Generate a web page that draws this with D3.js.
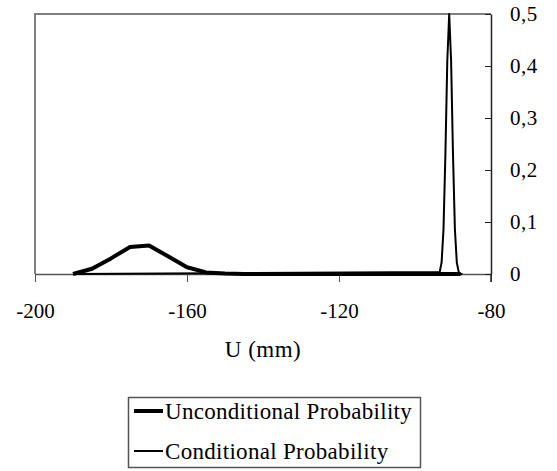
<!DOCTYPE html>
<html>
<head>
<meta charset="utf-8">
<script src="https://cdn.jsdelivr.net/npm/d3@7"></script>
<style>
  body { margin: 0; background: #fff; }
  svg { display: block; font-family: "Liberation Serif", "Times New Roman", serif; }
</style>
</head>
<body>
<svg width="557" height="471"></svg>
<script>
// U (mm) positions and probabilities
var uncondU = [-190, -185, -180, -175, -170, -165, -160, -155, -150, -145, -88];
var uncondP = [0, 0.01, 0.03, 0.052, 0.055, 0.034, 0.013, 0.003, 0.001, 0, 0];

var condU = [-190, -93.5, -93, -92.5, -92, -91.5, -91, -90.5, -90, -89.5, -89, -88.5, -88, -87.5];
var condP = [0, 0.004, 0.022, 0.086, 0.23, 0.41, 0.5, 0.41, 0.23, 0.086, 0.022, 0.004, 0, 0];

var xTicks = [-200, -160, -120, -80];
var yTicks = [0, 0.1, 0.2, 0.3, 0.4, 0.5];

var svg = d3.select("svg"),
    m = {left: 35, right: 491, top: 14, bottom: 274},
    fsTick = "21px",
    fsText = "23px";

var x = d3.scaleLinear().domain([-200, -80]).range([m.left, m.right]),
    y = d3.scaleLinear().domain([0, 0.5]).range([m.bottom, m.top]);

var fmtY = function(d) { return String(d).replace(".", ","); };

// frame (top and left in grey)
svg.append("path")
    .attr("d", "M" + m.left + "," + m.bottom + "V" + m.top + "H" + m.right)
    .style("fill", "none")
    .style("stroke", "#808080")
    .style("stroke-width", 2);

var line = d3.line()
    .x(function(d) { return x(d[0]); })
    .y(function(d) { return y(d[1]); });

var uncond = d3.zip(uncondU, uncondP),
    cond = d3.zip(condU, condP);

// x axis
var gx = svg.append("g")
    .attr("transform", "translate(0," + m.bottom + ")")
    .call(d3.axisBottom(x).tickValues(xTicks).tickSize(8).tickSizeOuter(0).tickPadding(21)
      .tickFormat(function(d) { return String(d); }));
gx.select(".domain").style("stroke", "#555").style("stroke-width", 1.5);
gx.selectAll(".tick line").style("stroke", "#555");
gx.selectAll("text").style("font-size", fsTick).style("fill", "#000")
    .style("font-family", "Liberation Serif");

// y axis on the right, ticks pointing inward
var gy = svg.append("g")
    .attr("transform", "translate(" + m.right + ",0)")
    .call(d3.axisLeft(y).tickValues(yTicks).tickSize(6).tickSizeOuter(0).tickFormat(fmtY));
gy.select(".domain").style("stroke", "#222").style("stroke-width", 1.5);
gy.selectAll(".tick line").style("stroke", "#222");
gy.selectAll("text")
    .attr("x", 19)
    .style("text-anchor", "start")
    .style("font-size", fsTick)
    .style("letter-spacing", "0.5px")
    .style("fill", "#000")
    .style("font-family", "Liberation Serif");
// axis line extends below the plot
gy.append("line")
    .attr("y1", m.bottom).attr("y2", m.bottom + 8)
    .style("stroke", "#222").style("stroke-width", 1.5);

svg.append("path")
    .datum(uncond)
    .attr("d", line)
    .style("fill", "none")
    .style("stroke", "#000")
    .style("stroke-width", 4)
    .style("stroke-linejoin", "round");

svg.append("path")
    .datum(cond)
    .attr("d", line)
    .style("fill", "none")
    .style("stroke", "#000")
    .style("stroke-width", 2)
    .style("stroke-linejoin", "round");

svg.append("text")
    .attr("x", (m.left + m.right) / 2)
    .attr("y", 357)
    .attr("text-anchor", "middle")
    .style("font-size", fsText)
    .style("letter-spacing", "0.5px")
    .text("U (mm)");

// legend
var legend = svg.append("g");
legend.append("rect")
    .attr("x", 128.5).attr("y", 397.5)
    .attr("width", 292).attr("height", 70)
    .style("fill", "none")
    .style("stroke", "#555")
    .style("stroke-width", 1.5);

var items = [["Unconditional Probability", 4], ["Conditional Probability", 2]];
items.forEach(function(it, i) {
  var cy = 411 + i * 40;
  legend.append("line")
      .attr("x1", 134).attr("x2", 163)
      .attr("y1", cy).attr("y2", cy)
      .style("stroke", "#000")
      .style("stroke-width", it[1]);
  legend.append("text")
      .attr("x", 165).attr("y", cy + 8)
      .style("font-size", fsText)
      .style("letter-spacing", "0.3px")
      .text(it[0]);
});
</script>
</body>
</html>
